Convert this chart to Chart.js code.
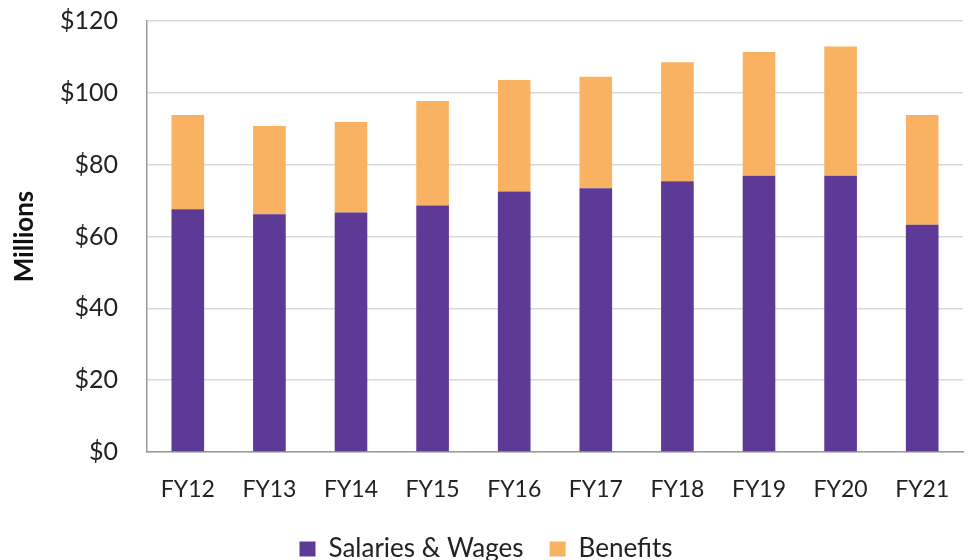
<!DOCTYPE html>
<html><head><meta charset="utf-8">
<script src="https://cdn.jsdelivr.net/npm/chart.js@4"></script>
<style>html,body{margin:0;padding:0;background:#fff}#wrap{width:969px;height:560px}</style>
</head><body><div id="wrap"><canvas id="c" width="969" height="560"></canvas></div>
<script>
const categories = ["FY12","FY13","FY14","FY15","FY16","FY17","FY18","FY19","FY20","FY21"];
const salariesWages = [67.6,66.2,66.7,68.6,72.5,73.4,75.4,76.9,76.9,63.3];
const benefits = [26.2,24.6,25.2,29.1,31.1,31.1,33.1,34.5,36.0,30.5];
const yTicks = [0,20,40,60,80,100,120];

const FONT = "Lato, 'Liberation Sans', sans-serif";

const legendSizer = {
  id: 'legendSizer',
  afterInit(chart) {
    const L = chart.legend;
    if (!L) return;
    const orig = L.fit.bind(L);
    L.fit = function () { orig(); this.height = 50; };
  }
};

new Chart(document.getElementById('c'), {
  type: 'bar',
  data: {
    labels: categories,
    datasets: [
      {label: 'Salaries & Wages', data: salariesWages, backgroundColor: '#5c3a96', barPercentage: 0.4, categoryPercentage: 1},
      {label: 'Benefits', data: benefits, backgroundColor: '#f9b261', barPercentage: 0.4, categoryPercentage: 1}
    ]
  },
  plugins: [legendSizer],
  options: {
    responsive: false, animation: false,
    devicePixelRatio: 1,
    layout: {padding: {left: 9, right: 6, top: 0, bottom: 0}},
    plugins: {
      legend: {position: 'bottom', labels: {font: {family: FONT, size: 26}, color: '#222', boxWidth: 16, boxHeight: 15, padding: 26}},
      tooltip: {enabled: false}
    },
    scales: {
      x: {stacked: true,
          grid: {display: true, drawOnChartArea: false, drawTicks: true, tickLength: 20, tickColor: 'rgba(0,0,0,0)'},
          border: {color: '#999', width: 1.5},
          ticks: {font: {family: FONT, size: 23}, color: '#222', padding: 4},
          afterFit: s => { s.height = 58; }},
      y: {stacked: true, min: 0, max: 120,
          afterBuildTicks: s => { s.ticks = yTicks.map(v => ({value: v})); },
          grid: {color: '#d9d9d9', lineWidth: 1.5, drawTicks: true, tickLength: 23, tickColor: 'rgba(0,0,0,0)'},
          border: {color: '#999', width: 1.5},
          ticks: {font: {family: FONT, size: 25}, color: '#222', padding: 6, callback: v => '$' + v},
          title: {display: true, text: 'Millions', font: {family: FONT, size: 26, weight: 'bold'}, color: '#111', padding: {top: 0, bottom: 0}},
          afterFit: s => { s.width = 138; }}
    }
  }
});
</script></body></html>
